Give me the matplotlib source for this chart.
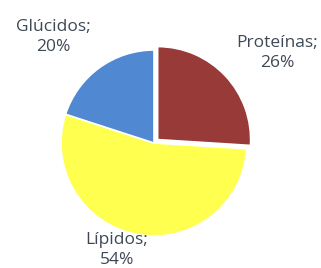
import matplotlib
matplotlib.use("Agg")
import matplotlib.pyplot as plt

labels = ["Proteínas", "Lípidos", "Glúcidos"]
values = [26, 54, 20]
colors = ["#983A37", "#FFFF4F", "#5088D2"]
label_pos = [(277, 215), (117, 18), (53, 231)]

fig = plt.figure(figsize=(3.21, 2.68), dpi=100)
ax = fig.add_axes([0, 0, 1, 1])

# explode is in data units here since the radius is in pixels
wedges, _ = ax.pie(values, colors=colors, startangle=90, counterclock=False,
                   center=(154, 125), radius=93, frame=True,
                   explode=[5, 0, 0],
                   wedgeprops=dict(edgecolor="white", linewidth=1.2))

ax.set_xlim(0, 321)
ax.set_ylim(0, 268)
ax.set_aspect("equal")
ax.axis("off")

for lab, val, (x, y) in zip(labels, values, label_pos):
    ax.text(x, y, f"{lab};\n{val}%", ha="center", va="center", fontsize=12.5,
            family="Open Sans", color="#3E4955", linespacing=1.4)

fig.savefig("out.png", dpi=100)
